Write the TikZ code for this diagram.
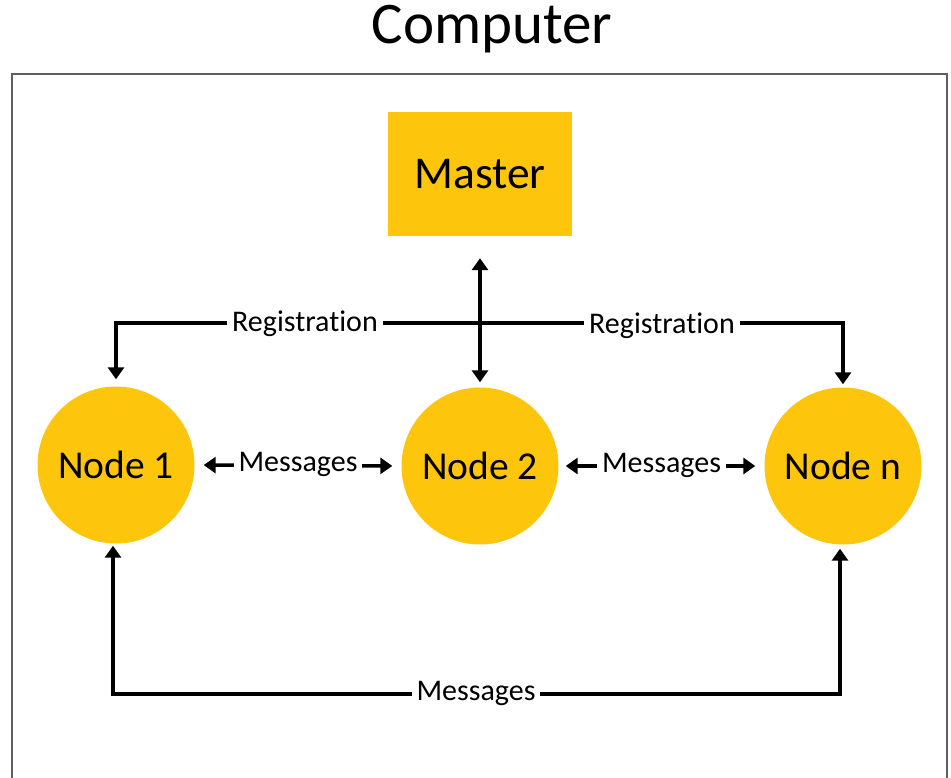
\documentclass[tikz,border=0pt]{standalone}
\usepackage{fontspec}
\setmainfont{Carlito}[Ligatures=NoCommon]
\usetikzlibrary{arrows.meta}
\definecolor{gold}{RGB}{253,198,12}
\definecolor{frame}{RGB}{95,95,95}
\tikzset{
  conn/.style={line width=3.5pt, arrows={-Triangle[width=16pt,length=12pt]}},
  bconn/.style={line width=3.5pt, arrows={Triangle[width=16pt,length=12pt]-Triangle[width=16pt,length=12pt]}},
  lbl/.style={fill=white, inner sep=5pt, font=\fontsize{30}{32}\selectfont},
  circ/.style={circle, fill=gold, minimum size=157pt, inner sep=0pt, font=\fontsize{39.5}{42}\selectfont},
}
\begin{document}
\begin{tikzpicture}[x=1pt, y=-1pt]
\useasboundingbox (0,0) rectangle (951,778);
\begin{scope}
\clip (0,0) rectangle (951,778);
\draw[frame, line width=2pt] (12,800) -- (12,74) -- (947,74) -- (947,800);
\end{scope}
\node (title) at (492,29) {\fontsize{59}{62}\selectfont Computer};
\node[fill=gold, minimum width=184pt, minimum height=124pt, inner sep=0pt, font=\fontsize{45.5}{48}\selectfont] (master) at (480,174) {Master};
\node[circ] (n1) at (116,465) {Node 1};
\node[circ] (n2) at (480,466) {Node 2};
\node[circ] (nn) at (843,466) {Node n};
% registration
\coordinate (rj) at (480,323);
\draw[conn, shorten >=7pt] (rj) -| (n1.north);
\draw[conn, shorten >=3pt] (rj) -| (nn.north);
\node[lbl] (reg1) at (305,324) {Registration};
\node[lbl] (reg2) at (662,326) {Registration};
% master link
\draw[bconn, shorten <=22pt, shorten >=5pt] (master.south) -- (n2.north);
% messages
\draw[bconn, shorten <=9pt, shorten >=9pt] (n1.east) -- (n2.west) node[lbl, midway, yshift=1pt] (m1) {Messages};
\draw[bconn, shorten <=7pt, shorten >=9pt] (n2.east) -- (nn.west) node[lbl, midway, yshift=1pt] (m2) {Messages};
\coordinate (bm) at (476,694);
\draw[bconn, shorten <=2pt, shorten >=4pt] ([xshift=-3pt]n1.south) |- (bm) -| ([xshift=-3pt]nn.south);
\node[lbl] (m3) at ([yshift=1pt]bm) {Messages};
\end{tikzpicture}
\end{document}
